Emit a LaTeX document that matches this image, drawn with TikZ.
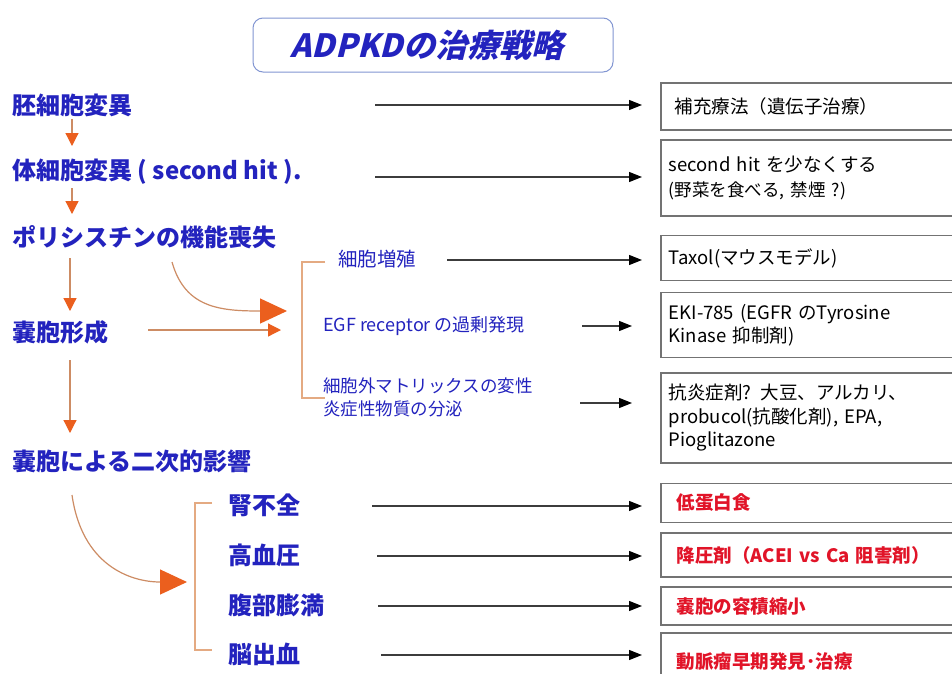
\documentclass[tikz,border=0pt]{standalone}
\usepackage{fontspec}
\setmainfont{Noto Sans CJK JP}
\newfontfamily\titlefont[FakeSlant=0.25]{Noto Sans CJK JP}
\usetikzlibrary{arrows.meta}
\definecolor{tblue}{RGB}{35,35,190}
\definecolor{tred}{RGB}{225,20,40}
\definecolor{aor}{RGB}{235,95,30}
\definecolor{aln}{RGB}{205,140,100}
\definecolor{brk}{RGB}{228,170,130}
\definecolor{bx}{RGB}{115,115,115}
\definecolor{tbx}{RGB}{130,150,210}
\definecolor{kln}{RGB}{60,60,60}
\tikzset{
  mainlbl/.style={anchor=west,inner sep=0pt,text=tblue,font=\fontsize{24}{28}\selectfont\bfseries},
  sublbl/.style={anchor=west,inner sep=0pt,text=tblue,align=left,font=\fontsize{18}{23}\selectfont},
  rbox/.style={anchor=west,draw=bx,line width=1.5pt,fill=white,text width=300pt,align=left,inner xsep=8pt,inner ysep=0pt,font=\fontsize{18.5}{23.5}\selectfont},
  redbox/.style={rbox,text=tred,inner xsep=16pt,font=\fontsize{18.5}{23.5}\selectfont\bfseries},
  kar/.style={draw=kln,line width=1.2pt,-{Triangle[length=13pt,width=10pt,fill=black,color=black]},shorten >=18pt},
  oar/.style={draw=aln,line width=1.2pt,-{Triangle[length=13pt,width=13pt,fill=aor,color=aor]}},
  bigoar/.style={draw=aln,line width=1.2pt,-{Triangle[length=27pt,width=25pt,fill=aor,color=aor]}},
  brkline/.style={draw=brk,line width=1.5pt},
}
\begin{document}
\begin{tikzpicture}[x=1pt,y=-1pt]
\useasboundingbox (0,0) rectangle (952,673);
\clip (0,0) rectangle (952,673);
\fill[white] (0,0) rectangle (952,673);
% title
\node[draw=tbx,line width=1pt,rounded corners=10pt,minimum width=360pt,minimum height=54pt] (title) at (433,45) {};
\node[text=tblue,inner sep=0pt,font=\titlefont\fontsize{32}{34}\selectfont\bfseries] (titletext) at (427,45) {ADPKDの治療戦略};
% left chain
\node[mainlbl] (m1) at (12,105) {胚細胞変異};
\node[mainlbl] (m2) at (12,172) {体細胞変異 ( second hit ).};
\node[mainlbl] (m3) at (12,237) {ポリシスチンの機能喪失};
\node[mainlbl] (m4) at (12,332) {嚢胞形成};
\node[mainlbl] (m5) at (12,461) {嚢胞による二次的影響};
\coordinate (v1a) at (72,119); \coordinate (v1b) at (72,146);
\coordinate (v2a) at (72,188); \coordinate (v2b) at (72,214);
\coordinate (v3a) at (70,258); \coordinate (v3b) at (70,311);
\coordinate (v4a) at (70,360); \coordinate (v4b) at (70,433);
\draw[oar] (v1a) -- (v1b);
\draw[oar] (v2a) -- (v2b);
\draw[oar] (v3a) -- (v3b);
\draw[oar] (v4a) -- (v4b);
% arrows to middle bracket
\coordinate (c1a) at (172,262); \coordinate (c1b) at (287,311);
\draw[bigoar] (c1a) .. controls (185,308) and (220,311) .. (c1b);
\coordinate (h1a) at (148,330); \coordinate (h1b) at (281,330);
\draw[oar] (h1a) -- (h1b);
\draw[brkline] (325,262) -- (302,262) -- (302,398) -- (325,398);
\node[sublbl,font=\fontsize{19.5}{23}\selectfont] (s1) at (338,259) {細胞増殖};
\node[sublbl] (s2) at (323,326) {EGF receptor の過剰発現};
\node[sublbl,font=\fontsize{17.5}{23}\selectfont] (s3) at (323,397) {細胞外マトリックスの変性\\炎症性物質の分泌};
% bottom group
\coordinate (c2a) at (72,495); \coordinate (c2b) at (187,582);
\draw[bigoar] (c2a) .. controls (82,565) and (130,582) .. (c2b);
\draw[brkline] (212,503) -- (195,503) -- (195,650) -- (212,650);
\node[mainlbl] (b1) at (228,505) {腎不全};
\node[mainlbl] (b2) at (228,555) {高血圧};
\node[mainlbl] (b3) at (228,605) {腹部膨満};
\node[mainlbl] (b4) at (228,654) {脳出血};
% right boxes
\node[rbox,minimum height=47pt] (r1) at (660,106.5) {\hspace*{6pt}補充療法（遺伝子治療）};
\node[rbox,minimum height=76pt] (r2) at (660,178) {second hit を少なくする\\[2pt]{\fontsize{17.5}{20}\selectfont (野菜を食べる, 禁煙 ?)}};
\node[rbox,minimum height=45pt] (r3) at (660,258) {Taxol(マウスモデル)};
\node[rbox,minimum height=65pt] (r4) at (660,325) {EKI-785 (EGFR のTyrosine\\Kinase 抑制剤)};
\node[rbox,minimum height=90pt] (r5) at (660,418) {抗炎症剤? 大豆、アルカリ、\\probucol(抗酸化剤), EPA,\\Pioglitazone};
\node[redbox,minimum height=39pt] (r6) at (660,503) {低蛋白食};
\node[redbox,minimum height=44pt] (r7) at (660,555) {降圧剤（ACEI vs Ca 阻害剤）};
\node[redbox,minimum height=38pt] (r8) at (660,606) {嚢胞の容積縮小};
\node[redbox,minimum height=50pt,anchor=north west] (r9) at (660,632) {\rule{0pt}{24pt}動脈瘤早期発見･治療};
% black arrows
\coordinate (k1) at (375,105);
\coordinate (k2) at (375,177);
\coordinate (k3) at (447,260);
\coordinate (k4) at (582,326);
\coordinate (k5) at (580,403);
\coordinate (k6) at (372,506);
\coordinate (k7) at (377,556);
\coordinate (k8) at (378,606);
\coordinate (k9) at (381,655);
\draw[kar] (k1) -- (k1 -| r1.west);
\draw[kar] (k2) -- (k2 -| r2.west);
\draw[kar] (k3) -- (k3 -| r3.west);
\draw[kar,shorten >=28pt] (k4) -- (k4 -| r4.west);
\draw[kar,shorten >=28pt] (k5) -- (k5 -| r5.west);
\draw[kar] (k6) -- (k6 -| r6.west);
\draw[kar] (k7) -- (k7 -| r7.west);
\draw[kar] (k8) -- (k8 -| r8.west);
\draw[kar] (k9) -- (k9 -| r9.west);
\end{tikzpicture}
\end{document}
